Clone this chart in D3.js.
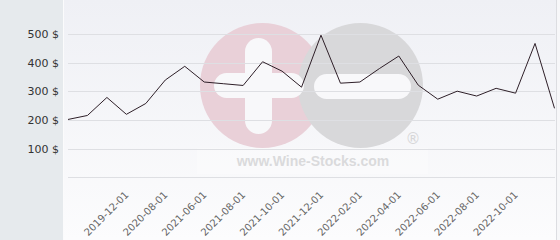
<!DOCTYPE html>
<html lang="en">
  <head>
    <meta charset="UTF-8" />
    <script src="https://d3js.org/d3.v7.min.js"></script>
    <style>
      body { margin: 0; background: #fff; }
      .axis text { font-family: 'DejaVu Sans', sans-serif; }
    </style>
  </head>
  <body>
    <script>
      var width = 560
      var height = 240

      // dates of each price point (only some of them get a label)
      var dates = [
        '2019-06-01', '2019-08-01', '2019-10-01', '2019-12-01', '2020-04-01',
        '2020-08-01', '2021-01-01', '2021-06-01', '2021-07-01', '2021-08-01',
        '2021-09-01', '2021-10-01', '2021-11-01', '2021-12-01', '2022-01-01',
        '2022-02-01', '2022-03-01', '2022-04-01', '2022-05-01', '2022-06-01',
        '2022-07-01', '2022-08-01', '2022-09-01', '2022-10-01', '2022-11-01',
        '2022-12-01'
      ]
      var prices = [
        202, 216, 279, 220, 258, 340, 388, 333, 327, 321, 404, 371, 315,
        497, 329, 333, 380, 424, 322, 273, 301, 284, 311, 294, 468, 241
      ]
      var labelledDates = [
        '2019-12-01', '2020-08-01', '2021-06-01', '2021-08-01', '2021-10-01',
        '2021-12-01', '2022-02-01', '2022-04-01', '2022-06-01', '2022-08-01',
        '2022-10-01'
      ]
      var yTicks = [100, 200, 300, 400, 500]
      var gridTicks = [0, 100, 200, 300, 400, 500]

      var svg = d3
        .select('body')
        .append('svg')
        .attr('width', width)
        .attr('height', height)

      var defs = svg.append('defs')
      var grad = defs
        .append('linearGradient')
        .attr('id', 'bg')
        .attr('x1', 0).attr('y1', 0).attr('x2', 0).attr('y2', 1)
      grad.append('stop').attr('offset', '0%').attr('stop-color', '#eff0f5')
      grad.append('stop').attr('offset', '100%').attr('stop-color', '#fcfcfd')

      // left panel + plot background
      svg.append('rect').attr('x', 0).attr('y', 0).attr('width', 63).attr('height', height).attr('fill', '#e6eaed')
      svg.append('rect').attr('x', 63).attr('y', 0).attr('width', 1).attr('height', height).attr('fill', '#fbfbfc')
      svg.append('rect').attr('x', 64).attr('y', 0).attr('width', 492).attr('height', height).attr('fill', 'url(#bg)')
      svg.append('rect').attr('x', 556).attr('y', 0).attr('width', 1).attr('height', height).attr('fill', '#dcdde1')
      svg.append('rect').attr('x', 557).attr('y', 0).attr('width', 3).attr('height', height).attr('fill', '#f7f7f9')

      var x = d3.scalePoint().domain(dates).range([68, 554.5])
      var y = d3.scaleLinear().domain([0, 500]).range([177.2, 34.3])

      // watermark logo
      var wm = svg.append('g')
      wm.append('rect').attr('x', 197).attr('y', 148).attr('width', 231).attr('height', 26).attr('fill', '#ffffff').attr('opacity', 0.25)
      wm.append('circle').attr('cx', 262.5).attr('cy', 85.5).attr('r', 62.5).attr('fill', '#e9d0d8')
      wm.append('circle').attr('cx', 360.5).attr('cy', 85.5).attr('r', 62.5).attr('fill', '#d8d8da')
      wm.append('rect').attr('x', 245).attr('y', 38).attr('width', 27).attr('height', 96).attr('rx', 13.5).attr('fill', '#f8f8fa')
      wm.append('rect').attr('x', 214).attr('y', 73).attr('width', 90).attr('height', 25).attr('rx', 12.5).attr('fill', '#f8f8fa')
      wm.append('rect').attr('x', 314).attr('y', 74).attr('width', 97).attr('height', 25).attr('rx', 12.5).attr('fill', '#f8f8fa')
      wm.append('text')
        .attr('x', 413).attr('y', 144)
        .attr('text-anchor', 'middle')
        .attr('font-family', 'DejaVu Sans, sans-serif')
        .attr('font-size', 15)
        .attr('fill', '#d6d6d8')
        .text('®')
      wm.append('text')
        .attr('x', 313).attr('y', 166)
        .attr('text-anchor', 'middle')
        .attr('font-family', 'Liberation Sans, Arial, sans-serif')
        .attr('font-weight', 'bold')
        .attr('font-size', 14)
        .attr('fill', '#dadadc')
        .text('www.Wine-Stocks.com')

      // grid
      svg
        .append('g')
        .selectAll('line')
        .data(gridTicks)
        .enter()
        .append('line')
        .attr('x1', 68)
        .attr('x2', 555)
        .attr('y1', function (d) { return Math.round(y(d)) + 0.5 })
        .attr('y2', function (d) { return Math.round(y(d)) + 0.5 })
        .attr('stroke', '#dedfe3')
        .attr('stroke-width', 1)

      // y axis labels
      var yAxis = d3.axisLeft(y).tickValues(yTicks).tickSize(0).tickPadding(0)
        .tickFormat(function (d) { return d + ' $' })
      var gy = svg.append('g').attr('class', 'axis').attr('transform', 'translate(59,0)').call(yAxis)
      gy.select('.domain').remove()
      gy.selectAll('text').attr('font-size', 11).attr('fill', '#333')

      // x axis labels
      var xAxis = d3.axisBottom(x).tickValues(labelledDates).tickSize(0).tickPadding(0)
      var gx = svg.append('g').attr('class', 'axis').attr('transform', 'translate(0,193)').call(xAxis)
      gx.select('.domain').remove()
      gx.selectAll('text')
        .attr('font-size', 10)
        .attr('fill', '#666')
        .attr('y', 0)
        .attr('dy', '0.35em')
        .attr('text-anchor', 'end')
        .attr('transform', 'rotate(-45)')

      // price line
      var line = d3
        .line()
        .x(function (d, i) { return x(dates[i]) })
        .y(function (d) { return y(d) })
      svg
        .append('path')
        .datum(prices)
        .attr('d', line)
        .attr('fill', 'none')
        .attr('stroke', '#2e1f28')
        .attr('stroke-width', 1)
    </script>
  </body>
</html>
